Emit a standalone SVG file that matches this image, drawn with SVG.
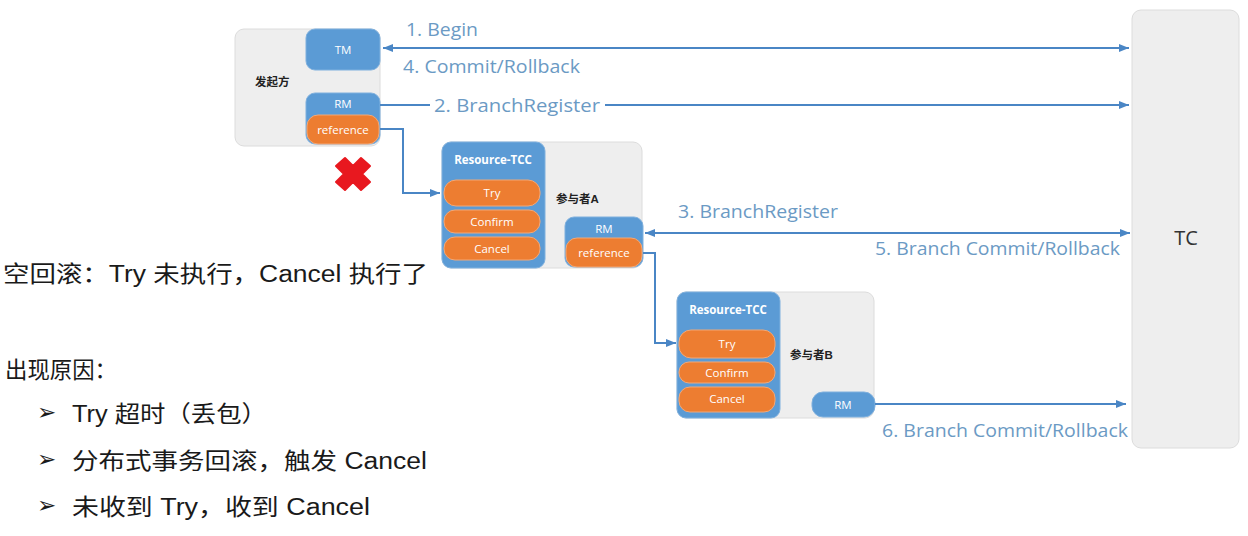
<svg xmlns="http://www.w3.org/2000/svg" width="1248" height="536" viewBox="0 0 1248 536">
<defs>
<marker id="ah" viewBox="0 0 10 8" refX="10" refY="4" markerWidth="10" markerHeight="8" markerUnits="userSpaceOnUse" orient="auto-start-reverse">
<path d="M0,0 L10,4 L0,8 z" fill="#4a86c5"/>
</marker>
<style>
.cont{fill:#eeeeee;stroke:#dcdcdc;stroke-width:1}
.blue{fill:#5b9bd5;stroke:#7fb0de;stroke-width:1}
.org{fill:#ed7d31;stroke:#f3a877;stroke-width:1}
.wt{fill:#ffffff;font-family:"Open Sans","Liberation Sans",sans-serif;font-size:11.5px;text-anchor:middle}
.wb{fill:#ffffff;font-family:"Open Sans","Liberation Sans",sans-serif;font-size:11.5px;font-weight:bold;text-anchor:middle}
.cn{fill:#222222;font-family:"Liberation Sans","Noto Sans CJK SC",sans-serif;font-size:11.5px;font-weight:bold}
.ln{fill:none;stroke:#4a86c5;stroke-width:2}
.lbl{fill:#6b9ac4;font-family:"Open Sans","Liberation Sans",sans-serif;font-size:17.5px}
.big{fill:#1a1a1a;font-family:"Liberation Sans","Noto Sans CJK SC",sans-serif;font-size:23px}
</style>
</defs>
<rect width="1248" height="536" fill="#ffffff"/>

<g id="tc">
<rect x="1132" y="10" width="107" height="438" rx="9" class="cont"/>
<text x="1186" y="245" font-family="Open Sans,Liberation Sans,sans-serif" font-size="20" fill="#333" text-anchor="middle">TC</text>
</g>

<g id="initiator">
<rect x="235" y="29" width="145" height="117" rx="9" class="cont"/>
<text x="255" y="86" class="cn">发起方</text>
</g>
<g id="tm">
<rect x="306" y="29" width="74" height="41" rx="9" class="blue"/>
<text x="343" y="54" class="wt">TM</text>
</g>
<g id="rm0">
<rect x="306" y="93" width="74" height="51" rx="9" class="blue"/>
<text x="343" y="108" class="wt">RM</text>
<rect x="307" y="115" width="72" height="29" rx="11" class="org"/>
<text x="343" y="134" class="wt">reference</text>
</g>
<g id="cross">
<path d="M345,158 L353,166 L361,158 L370,166 L362,174 L370,182 L361,190 L353,182 L345,190 L336,182 L344,174 L336,166 z" fill="#e8181f" stroke="#e8181f" stroke-width="2" stroke-linejoin="round"/>
</g>

<g id="participantA">
<rect x="442" y="142" width="200" height="126" rx="9" class="cont"/>
<text x="556" y="203" class="cn">参与者A</text>
</g>
<g id="tccA">
<rect x="442" y="142" width="103" height="126" rx="9" class="blue"/>
<text x="493" y="164" class="wb">Resource-TCC</text>
<rect x="444" y="180" width="96" height="26" rx="12" class="org"/>
<text x="492" y="197" class="wt">Try</text>
<rect x="444" y="210" width="96" height="23" rx="11" class="org"/>
<text x="492" y="226" class="wt">Confirm</text>
<rect x="444" y="237" width="96" height="23" rx="11" class="org"/>
<text x="492" y="253" class="wt">Cancel</text>
</g>
<g id="rmA">
<rect x="565" y="217" width="78" height="50" rx="9" class="blue"/>
<text x="604" y="233" class="wt">RM</text>
<rect x="566" y="238" width="76" height="29" rx="11" class="org"/>
<text x="604" y="257" class="wt">reference</text>
</g>

<g id="participantB">
<rect x="677" y="292" width="197" height="126" rx="9" class="cont"/>
<text x="790" y="359" class="cn">参与者B</text>
</g>
<g id="tccB">
<rect x="677" y="292" width="103" height="126" rx="9" class="blue"/>
<text x="728" y="314" class="wb">Resource-TCC</text>
<rect x="679" y="330" width="96" height="28" rx="12" class="org"/>
<text x="727" y="348" class="wt">Try</text>
<rect x="679" y="362" width="96" height="21" rx="10" class="org"/>
<text x="727" y="377" class="wt">Confirm</text>
<rect x="679" y="387" width="96" height="25" rx="11" class="org"/>
<text x="727" y="403" class="wt">Cancel</text>
</g>
<g id="rmB">
<rect x="812" y="392" width="63" height="25" rx="11" class="blue"/>
<text x="843" y="409" class="wt">RM</text>
</g>

<g id="connectors">
<line x1="383" y1="48" x2="1129" y2="48" class="ln" marker-start="url(#ah)" marker-end="url(#ah)"/>
<path d="M380,105 L430,105 M605,105 L1129,105" class="ln" marker-end="url(#ah)"/>
<path d="M380,129 L403,129 L403,193 L440,193" class="ln" marker-end="url(#ah)"/>
<line x1="645" y1="233" x2="1130" y2="233" class="ln" marker-start="url(#ah)" marker-end="url(#ah)"/>
<path d="M643,253 L655,253 L655,343 L676,343" class="ln" marker-end="url(#ah)"/>
<line x1="875" y1="404" x2="1126" y2="404" class="ln" marker-end="url(#ah)"/>
</g>

<g id="labels">
<text x="406" y="36" class="lbl" textLength="72" lengthAdjust="spacingAndGlyphs">1. Begin</text>
<text x="403" y="73" class="lbl" textLength="177" lengthAdjust="spacingAndGlyphs">4. Commit/Rollback</text>
<text x="434" y="112" class="lbl" textLength="166" lengthAdjust="spacingAndGlyphs">2. BranchRegister</text>
<text x="678" y="218" class="lbl" textLength="160" lengthAdjust="spacingAndGlyphs">3. BranchRegister</text>
<text x="875" y="255" class="lbl" textLength="245" lengthAdjust="spacingAndGlyphs">5. Branch Commit/Rollback</text>
<text x="882" y="437" class="lbl" textLength="246" lengthAdjust="spacingAndGlyphs">6. Branch Commit/Rollback</text>
</g>

<g id="notes">
<text x="3" y="282" class="big" textLength="425" lengthAdjust="spacingAndGlyphs">空回滚：Try 未执行，Cancel 执行了</text>
<text x="5" y="378" class="big" textLength="112" lengthAdjust="spacingAndGlyphs">出现原因：</text>
<text x="37" y="420" class="big" font-size="16">➢</text>
<text x="72" y="422" class="big" textLength="195" lengthAdjust="spacingAndGlyphs">Try 超时（丢包）</text>
<text x="37" y="467" class="big" font-size="16">➢</text>
<text x="72" y="469" class="big" textLength="355" lengthAdjust="spacingAndGlyphs">分布式事务回滚，触发 Cancel</text>
<text x="37" y="513" class="big" font-size="16">➢</text>
<text x="72" y="515" class="big" textLength="298" lengthAdjust="spacingAndGlyphs">未收到 Try，收到 Cancel</text>
</g>
</svg>
